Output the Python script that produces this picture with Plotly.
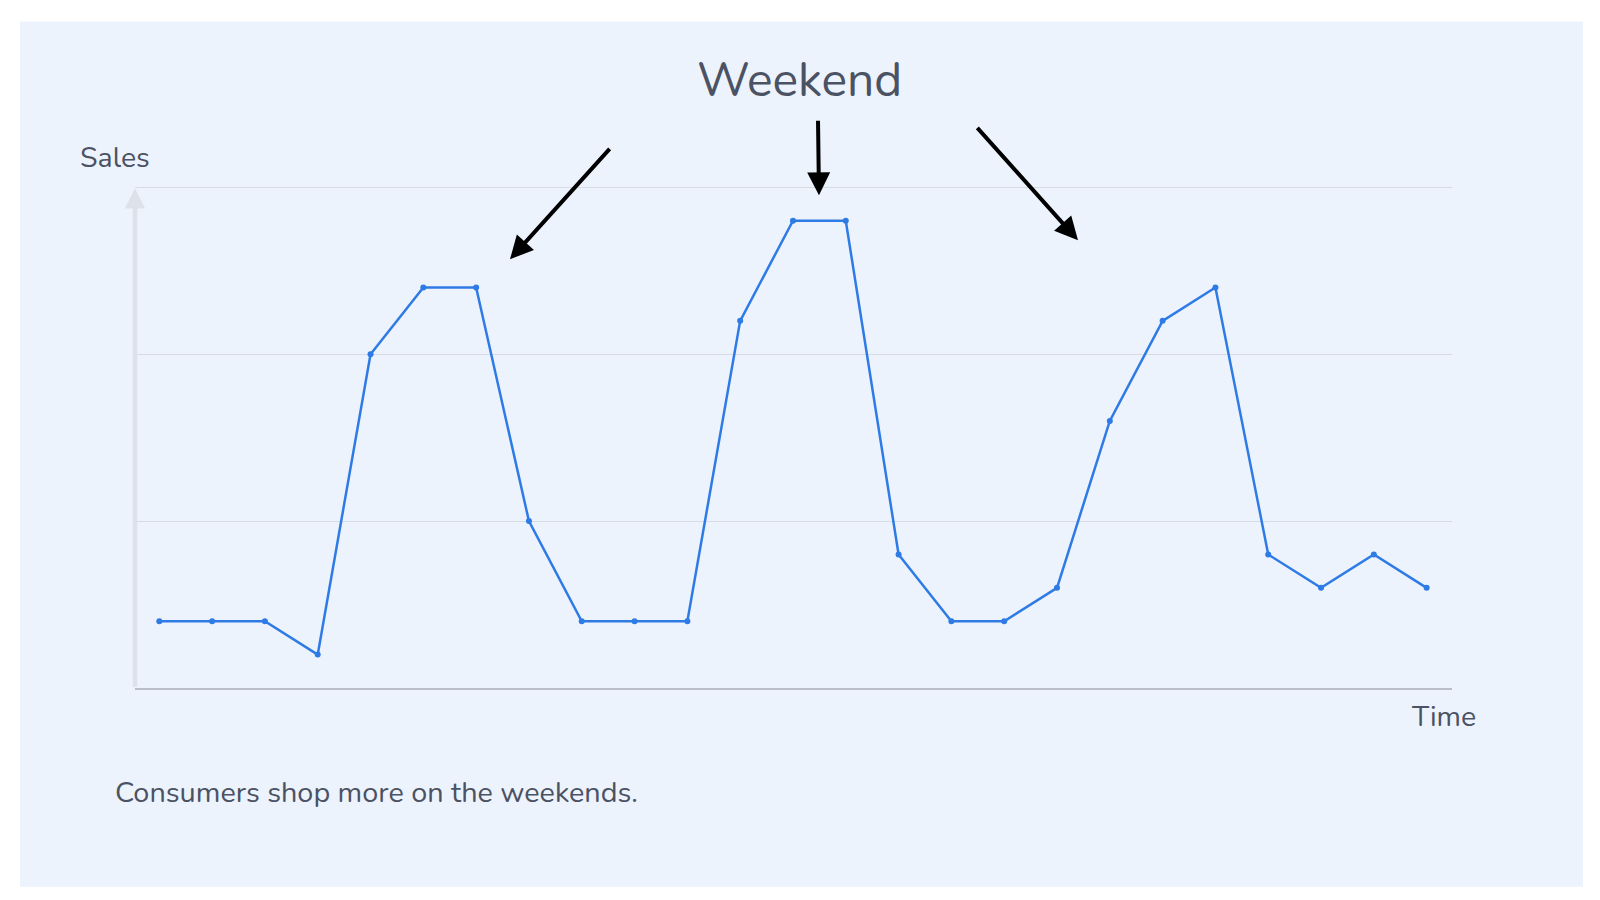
import plotly.graph_objects as go

# ---- data ----
time_index = list(range(25))
sales = [2, 2, 2, 1, 10, 12, 12, 5, 2, 2, 2, 11, 14, 14, 4, 2, 2, 3, 8, 11, 12, 4, 3, 4, 3]
grid_values = [5, 10, 15]
title_text = "Weekend"
y_label = "Sales"
x_label = "Time"
caption = "Consumers shop more on the weekends."

# ---- geometry (page pixels; the page body adds an 8px offset) ----
OFF = 8
W, H = 1600 - OFF, 900 - OFF
PL, PR, PB = 135 - OFF, 1452 - OFF, 688 - OFF   # plot left, right, bottom (figure px)
Y_TOP_VAL = 15
Y_TOP_PX = 187 - OFF
unit = (PB - Y_TOP_PX) / Y_TOP_VAL
Y_MAX = 15.1
PT = PB - Y_MAX * unit


def px_x(px):
    return (px - OFF - PL) / (PR - PL)


def px_y(py):
    return (PB - (py - OFF)) / (PB - PT)


TEXT = "#4B5263"
FONT = "Nunito, 'Open Sans', sans-serif"
PANEL = "#EDF3FD"

fig = go.Figure()
fig.add_trace(go.Scatter(
    x=time_index, y=sales, mode="lines+markers",
    line=dict(color="#2E7BE6", width=2.5),
    marker=dict(color="#2E7BE6", size=6),
    hoverinfo="skip", showlegend=False,
))

shapes = [dict(type="rect", xref="paper", yref="paper",
               x0=px_x(20), x1=px_x(1583), y0=px_y(887), y1=px_y(21),
               fillcolor=PANEL, line=dict(width=0), layer="below")]

annotations = []
# y axis arrow
annotations.append(dict(xref="paper", yref="paper", x=px_x(135), y=px_y(188),
                        ax=0, ay=688 - 188, text="", showarrow=True,
                        arrowhead=2, arrowsize=0.9, arrowwidth=4.5, arrowcolor="#DDE1EA"))
# weekend arrows (tip, tail)
for (tx, ty), (sx, sy) in [((510, 259), (611, 147)),
                           ((819, 195), (818, 119)),
                           ((1078, 240), (976, 126))]:
    annotations.append(dict(xref="paper", yref="paper", x=px_x(tx), y=px_y(ty),
                            ax=sx - tx, ay=sy - ty, text="", showarrow=True,
                            arrowhead=2, arrowsize=1.15, arrowwidth=4, arrowcolor="#000000",
                            standoff=0))

annotations += [
    dict(xref="paper", yref="paper", x=px_x(799), y=px_y(80), text=title_text,
         showarrow=False, xanchor="center", yanchor="middle",
         font=dict(family=FONT, size=48, color=TEXT)),
    dict(xref="paper", yref="paper", x=px_x(78), y=px_y(157), text=y_label,
         showarrow=False, xanchor="left", yanchor="middle",
         font=dict(family=FONT, size=28.5, color=TEXT)),
    dict(xref="paper", yref="paper", x=px_x(1409), y=px_y(717), text=x_label,
         showarrow=False, xanchor="left", yanchor="middle",
         font=dict(family=FONT, size=28.5, color=TEXT)),
    dict(xref="paper", yref="paper", x=px_x(113), y=px_y(793), text=caption,
         showarrow=False, xanchor="left", yanchor="middle",
         font=dict(family=FONT, size=28.8, color=TEXT)),
]

fig.update_layout(
    width=W, height=H,
    margin=dict(l=PL, r=W - PR, t=PT, b=H - PB, pad=0),
    paper_bgcolor="#FFFFFF", plot_bgcolor="rgba(0,0,0,0)",
    xaxis=dict(range=[-0.46, 24.48], showgrid=False, zeroline=False,
               showline=True, linecolor="#BABEC6", linewidth=2,
               showticklabels=False, ticks=""),
    yaxis=dict(range=[0, Y_MAX], tickvals=grid_values, showgrid=True,
               gridcolor="#D6DBE4", gridwidth=1, zeroline=False,
               showline=False, showticklabels=False, ticks=""),
    shapes=shapes, annotations=annotations,
)

fig.write_html("out.html")
